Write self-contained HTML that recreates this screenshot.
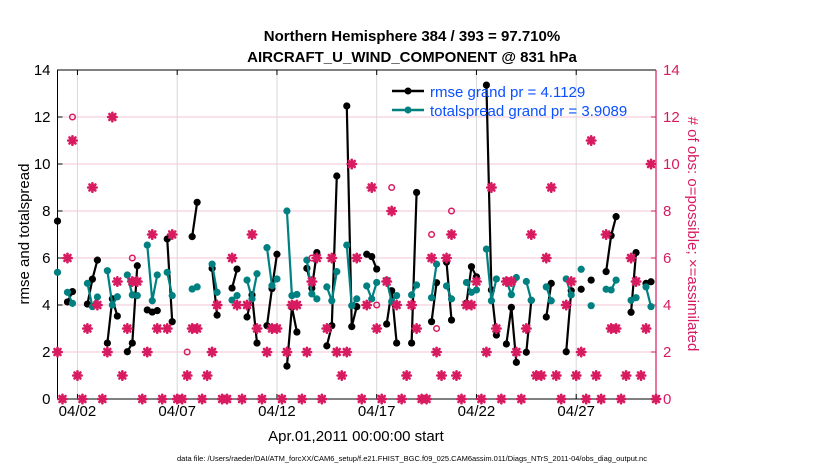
<!DOCTYPE html>
<html><head><meta charset="utf-8"><style>
body{margin:0;background:#fff;font-family:"Liberation Sans",sans-serif}
svg text{font-family:"Liberation Sans",sans-serif}
</style></head><body>
<svg id="chart" width="830" height="470" xmlns="http://www.w3.org/2000/svg">
<rect width="830" height="470" fill="#fff"/>
<text x="412" y="41" text-anchor="middle" font-size="15" font-weight="bold">Northern Hemisphere 384 / 393 = 97.710%</text>
<text x="412" y="62" text-anchor="middle" font-size="15" font-weight="bold">AIRCRAFT_U_WIND_COMPONENT @ 831 hPa</text>
<g id="grid"></g><g id="axes"></g><g id="series"></g><g id="obs"></g>
<text transform="translate(29,234) rotate(-90)" text-anchor="middle" font-size="15">rmse and totalspread</text>
<text transform="translate(688,234) rotate(90)" text-anchor="middle" font-size="15" fill="#d81b60"># of obs: o=possible; ×=assimilated</text>
<text x="356" y="441" text-anchor="middle" font-size="15">Apr.01,2011 00:00:00 start</text>
<text x="412" y="461" text-anchor="middle" font-size="7.5">data file: /Users/raeder/DAI/ATM_forcXX/CAM6_setup/f.e21.FHIST_BGC.f09_025.CAM6assim.011/Diags_NTrS_2011-04/obs_diag_output.nc</text>
<g>
<line x1="392" y1="91" x2="424" y2="91" stroke="#000" stroke-width="2.5"/><circle cx="408" cy="91" r="3.5" fill="#000"/>
<text x="430" y="97" font-size="15" fill="#0a50ff">rmse grand pr = 4.1129</text>
<line x1="392" y1="110" x2="424" y2="110" stroke="#008080" stroke-width="2.5"/><circle cx="408" cy="110" r="3.5" fill="#008080"/>
<text x="430" y="116" font-size="15" fill="#0a50ff">totalspread grand pr = 3.9089</text>
</g>
</svg>
<script>
const N=null;
const yTicks=[0,2,4,6,8,10,12,14];
const xTickDays=[1,6,11,16,21,26];
const xTickLabels=["04/02","04/07","04/12","04/17","04/22","04/27"];
// 6-hourly bins, k = 0..120
const rmse=[7.57,N,4.13,4.57,N,N,4.04,5.1,5.91,N,2.38,4.26,3.53,N,2.01,2.38,5.67,N,3.79,3.7,3.76,N,6.81,3.29,N,N,N,6.91,8.37,N,N,5.56,3.57,N,N,4.72,5.53,N,3.49,4.43,2.38,N,3.12,4.7,6.16,N,1.4,3.91,2.85,N,5.56,4.72,6.23,N,2.26,3.12,9.49,N,12.47,3.08,3.93,N,6.16,6.06,5.53,N,3.19,4.61,2.38,N,N,2.38,8.79,N,N,3.29,4.95,N,5.82,3.36,N,N,4.08,5.63,5.2,N,13.36,4.64,2.72,N,2.34,3.9,1.56,N,1.99,4.2,N,N,3.49,4.92,N,N,2.01,4.61,N,4.67,N,5.06,N,N,5.42,6.95,7.76,N,N,3.69,6.23,N,4.92,4.99,N];
const spread=[5.39,N,4.54,4.07,N,N,4.92,3.93,4.34,N,5.46,4.0,4.35,N,5.28,4.43,4.4,N,6.55,4.18,5.28,N,5.39,4.4,N,N,N,4.68,4.77,N,N,5.74,4.54,N,N,4.21,4.4,N,5.06,4.26,5.33,N,6.44,4.82,5.11,N,8.0,4.4,4.45,N,5.91,4.47,4.26,N,4.77,4.18,5.42,N,6.55,3.97,4.26,N,4.81,4.26,4.96,N,5.06,4.14,4.4,N,N,4.43,4.85,N,N,4.31,5.74,N,4.81,4.26,N,N,4.96,4.54,4.64,N,6.38,4.18,5.11,N,5.04,4.44,5.17,N,5.0,4.2,N,N,4.77,4.18,N,N,5.11,4.43,N,5.52,N,3.97,N,N,4.67,4.64,5.06,N,N,4.2,4.31,N,4.77,3.93,N];
const nAssim=[2,0,6,11,1,0,3,9,4,0,2,12,5,1,3,5,5,0,2,7,3,0,3,7,0,0,1,3,3,0,1,2,4,0,0,6,4,0,4,7,3,0,2,3,3,0,2,4,4,0,2,5,6,0,3,6,2,1,2,10,6,0,4,9,3,0,5,8,4,0,1,4,3,0,0,6,2,1,6,7,1,0,4,4,5,0,2,9,3,0,5,5,2,0,3,7,1,1,6,9,1,0,4,5,1,2,0,11,1,0,7,3,3,0,1,6,5,1,3,10,0];
const nPoss=[2,0,6,12,1,0,3,9,4,0,2,12,5,1,3,6,5,0,2,7,3,0,3,7,0,0,2,3,3,0,1,2,4,0,0,6,4,0,4,7,3,0,2,3,3,0,2,4,4,0,2,6,6,0,3,6,2,1,2,10,6,0,4,9,4,0,5,9,4,0,1,4,3,0,0,7,3,1,6,8,1,0,4,4,5,0,2,9,3,0,5,5,2,0,3,7,1,1,6,9,1,0,4,5,1,2,0,11,1,0,7,3,3,0,1,6,5,1,3,10,0];

const L=57.5,R=656,T=70,B=399,XMAX=30,YMAX=14;
const xs=d=>L+(R-L)*d/XMAX;
const ys=v=>B-(B-T)*v/YMAX;
const tOf=k=>k*0.25;
const NS="http://www.w3.org/2000/svg";
function mk(tag,parent,attrs){const e=document.createElementNS(NS,tag);for(const a in attrs)e.setAttribute(a,attrs[a]);parent.appendChild(e);return e;}
const grid=document.getElementById('grid'),axes=document.getElementById('axes'),obs=document.getElementById('obs'),ser=document.getElementById('series');
const PINK="#d81b60";
mk('rect',grid,{x:L,y:T,width:R-L,height:B-T,fill:'#fff'});
yTicks.forEach((v,i)=>{
  if(v>0&&v<YMAX){const g=mk('line',grid,{x1:L,x2:R,y1:ys(v),y2:ys(v),stroke:'#f3c6d6','stroke-width':1});
  
  }
  const t=mk('text',axes,{x:L-7,y:ys(v)+5,'text-anchor':'end','font-size':15});t.textContent=v;
  
  
  const t2=mk('text',axes,{x:R+7,y:ys(v)+5,'font-size':15,fill:PINK});t2.textContent=v;
  
  
  mk('line',axes,{x1:L,x2:L+5,y1:ys(v),y2:ys(v),stroke:'#000'});
  mk('line',axes,{x1:R-5,x2:R,y1:ys(v),y2:ys(v),stroke:PINK});
});
xTickDays.forEach((d,i)=>{
  const g=mk('line',grid,{x1:xs(d),x2:xs(d),y1:T,y2:B,stroke:'#d8d8d8','stroke-width':1});
  
  
  mk('line',axes,{x1:xs(d),x2:xs(d),y1:B,y2:B-5,stroke:'#000'});
  mk('line',axes,{x1:xs(d),x2:xs(d),y1:T,y2:T+5,stroke:'#000'});
  const t=mk('text',axes,{x:xs(d),y:B+17,'text-anchor':'middle','font-size':15});t.textContent=xTickLabels[i];
  
  
});
mk('polyline',axes,{points:`${R},${T} ${L},${T} ${L},${B} ${R},${B}`,fill:'none',stroke:'#000','stroke-width':1});
mk('line',axes,{x1:R,x2:R,y1:T,y2:B,stroke:PINK,'stroke-width':1.2});
function drawSeries(vals,color,name){
  let seg=[];
  const flush=()=>{if(seg.length>1){const p=mk('polyline',ser,{points:seg.join(' '),fill:'none',stroke:color,'stroke-width':2.2});
    
    }seg=[];};
  vals.forEach((v,k)=>{if(v===null){flush();return;}seg.push(xs(tOf(k))+','+ys(v));});
  flush();
  vals.forEach((v,k)=>{if(v===null)return;
    const c=mk('circle',ser,{cx:xs(tOf(k)),cy:ys(v),r:3.6,fill:color});
    
    });
}
drawSeries(rmse,'#000','rmse');
drawSeries(spread,'#008080','totalspread');
// obs markers
nAssim.forEach((v,k)=>{
  const x=xs(tOf(k));
  if(nPoss[k]!==v){const c=mk('circle',obs,{cx:x,cy:ys(nPoss[k]),r:2.8,fill:'none',stroke:PINK,'stroke-width':1.5});
    
    }
  const y=ys(v);
  const g=mk('g',obs,{stroke:PINK,'stroke-width':2.6,'stroke-linecap':'round'});
  
  
  mk('line',g,{x1:x-4.2,x2:x+4.2,y1:y,y2:y});
  mk('line',g,{x1:x,x2:x,y1:y-4.2,y2:y+4.2});
  mk('line',g,{x1:x-3,x2:x+3,y1:y-3,y2:y+3});
  mk('line',g,{x1:x-3,x2:x+3,y1:y+3,y2:y-3});
  mk('circle',g,{cx:x,cy:y,r:3.2,fill:PINK,stroke:'none'});
});
</script>
</body></html>
